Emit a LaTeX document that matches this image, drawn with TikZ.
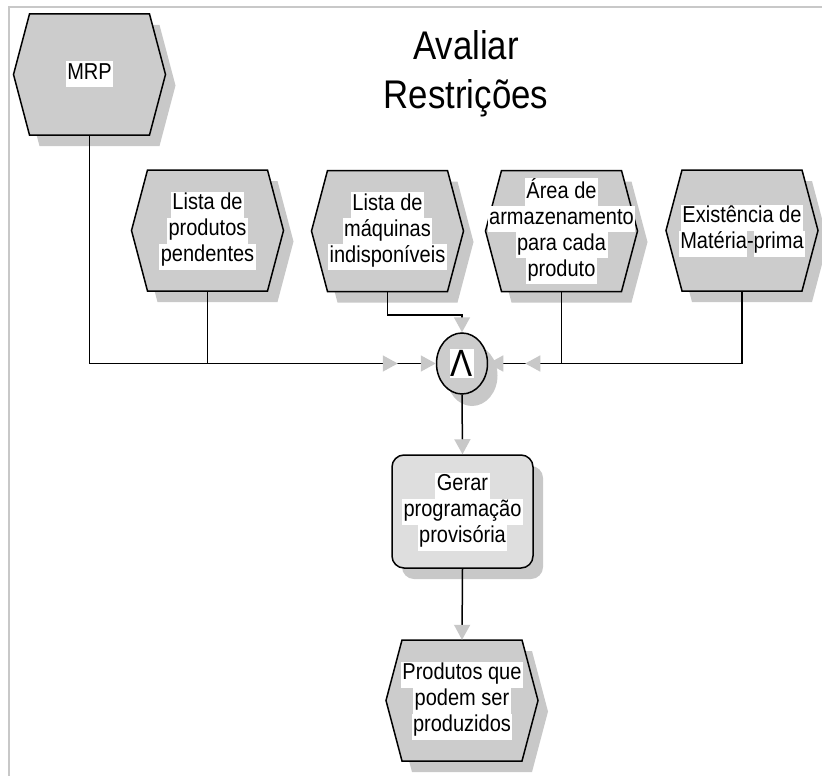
\documentclass[tikz,border=0pt]{standalone}
\usepackage{fontspec}
\setmainfont{Liberation Sans}
% narrowed face: tall letters at the usual widths
\newfontfamily\tallsans[FakeStretch=0.87]{Liberation Sans}
\usetikzlibrary{calc,arrows.meta,shapes.geometric}
\definecolor{shadowgray}{RGB}{200,200,200}
\definecolor{eventfill}{RGB}{204,204,204}
\definecolor{funcfill}{RGB}{222,222,222}
\definecolor{framegray}{RGB}{200,200,200}
% white highlight behind each text line (left/right padding optional)
\newcommand\hlbox[3]{{\setlength{\fboxsep}{0pt}\colorbox{white}{\strut\kern#1#3\kern#2}}}
\newcommand\hlt[1]{\hlbox{1.5pt}{1.5pt}{#1}}
% event: hexagon with shadow and a named text node
\newcommand\evtnode[4]{%
  \begin{scope}[shift={(#2,#3)}]
    \fill[shadowgray] (-50,-49.5) -- (70,-49.5) -- (86,11) -- (70,71.5) -- (-50,71.5) -- (-66,11) -- cycle;
    \draw[outline,fill=eventfill] (-60,-60.5) -- (60,-60.5) -- (76,0) -- (60,60.5) -- (-60,60.5) -- (-76,0) -- cycle;
  \end{scope}
  \node[evttext] (#1) at (#2,#3) {#4};%
}
\begin{document}
\begin{tikzpicture}[x=1pt,y=-1pt,
  outline/.style={line width=1.5pt, line join=miter},
  bodyfont/.style={font=\tallsans\fontsize{23}{26}\selectfont},
  evttext/.style={inner sep=0pt, minimum width=152pt, minimum height=121pt, align=center, bodyfont},
  conn/.style={line width=1.5pt, -{Triangle[length=15pt,width=16pt,color=shadowgray]}},
  ]
\useasboundingbox (0,0) rectangle (822,776);
\fill[white] (0,0) rectangle (822,776);
% frame
\draw[framegray, line width=2pt] (9,776) -- (9,7.5) -- (822,7.5);

% title
\node[anchor=north, inner sep=0pt, align=center, font=\tallsans\fontsize{40}{49}\selectfont] (title) at (466,30) {Avaliar\\Restrições};

% events
\evtnode{mrp}{89.5}{74.5}{\hlt{MRP}}
\evtnode{lpp}{207.5}{230.5}{\hlt{Lista de}\\\hlt{produtos}\\\hlt{pendentes}}
\evtnode{lmi}{387.5}{231}{\hlt{Lista de}\\\hlt{máquinas}\\\hlt{indisponíveis}}
\evtnode{area}{561.5}{231}{\hlt{Área de}\\\hlt{armazenamento}\\\hlt{para cada}\\\hlt{produto}}
\evtnode{emp}{742}{230.5}{\hlt{Existência de}\\\hlbox{1.5pt}{0pt}{Matéria}-\hlbox{0pt}{1.5pt}{prima}}
\evtnode{pps}{462}{700.5}{\hlt{Produtos que}\\\hlt{podem ser}\\\hlt{produzidos}}

% AND connector
\fill[shadowgray] (472,375.5) ellipse [x radius=25.5pt, y radius=30.5pt];
\node[ellipse, draw, outline, fill=eventfill, minimum width=51pt, minimum height=61pt, inner sep=0pt] (conj) at (462,363.5)
  {{\setlength\fboxsep{1pt}\colorbox{white}{\tallsans\fontsize{38}{38}\selectfont Λ}}};

% function
\fill[shadowgray, rounded corners=12pt] (402,466) rectangle (543,579);
\node[draw, outline, fill=funcfill, rounded corners=12pt, minimum width=141pt, minimum height=113pt, inner sep=0pt, align=center, bodyfont] (ggp) at (462.5,511.5)
  {\hlt{Gerar}\\\hlt{programação}\\\hlt{provisória}};

% connectors
\draw[conn] (lpp.south) |- (conj.west);
\draw[conn, shorten >=38pt] (mrp.south) |- (conj.west);
\draw[conn] (lmi.south) -- ++(0,23.5) -| (conj.north);
\draw[conn] (area.south) |- (conj.east);
\draw[conn, shorten >=37pt] (emp.south) |- (conj.east);
\draw[conn] (conj.south) -- (ggp.north);
\draw[conn] (ggp.south) -- (pps.north);
\end{tikzpicture}
\end{document}
